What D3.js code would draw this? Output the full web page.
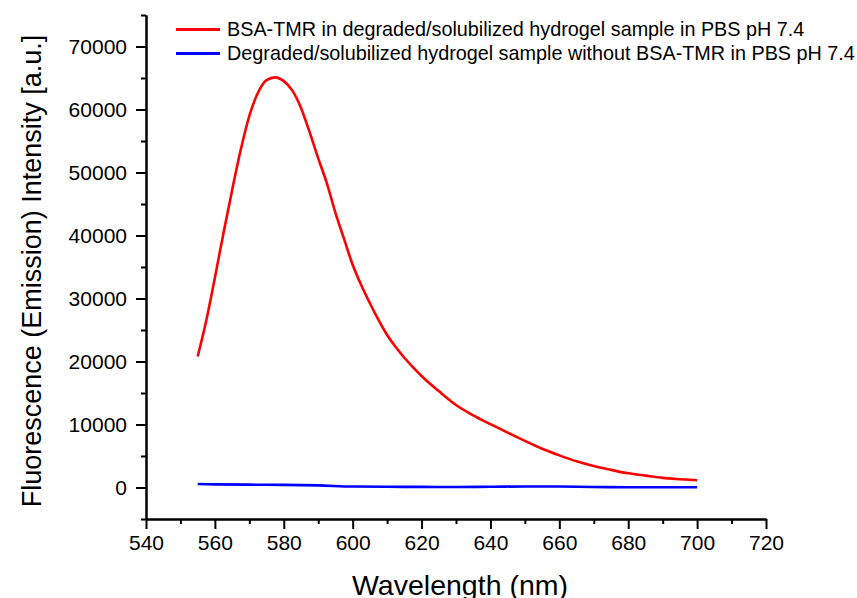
<!DOCTYPE html>
<html>
<head>
<meta charset="utf-8">
<script src="https://cdn.jsdelivr.net/npm/d3@7"></script>
<style>
  html, body { margin: 0; padding: 0; background: #fff; }
  svg { display: block; font-family: Arial, "Liberation Sans", sans-serif; }
</style>
</head>
<body>
<svg id="chart" width="857" height="598"></svg>
<script>
// Emission spectra (wavelength in nm, intensity in a.u.)
const wavelengthsRed = [555, 557.5, 560, 562.5, 565, 567.5, 570, 572.5, 575, 577.5, 580, 582.5, 585, 587.5,
  590, 592.5, 595, 597.5, 600, 602.5, 605, 607.5, 610, 612.5, 615, 617.5, 620, 625, 630, 635, 640, 645,
  650, 655, 660, 665, 670, 675, 680, 685, 690, 695, 700];
const intensityRed = [20800, 26500, 33300, 40400, 47200, 53600, 59000, 62650, 64650, 65100, 64500, 63000, 60250, 56400,
  52250, 48300, 43600, 39450, 35350, 32100, 29250, 26600, 24200, 22300, 20600, 19100, 17700, 15300, 13100, 11450, 10050, 8700,
  7400, 6150, 5100, 4150, 3400, 2800, 2250, 1880, 1530, 1320, 1150];

const wavelengthsBlue = [555, 560, 570, 580, 590, 600, 610, 620, 630, 640, 650, 660, 670, 680, 690, 700];
const intensityBlue = [560, 500, 450, 420, 330, 150, 110, 100, 80, 110, 170, 150, 80, 50, 40, 30];

const seriesNames = [
  "BSA-TMR in degraded/solubilized hydrogel sample in PBS pH 7.4",
  "Degraded/solubilized hydrogel sample without BSA-TMR in PBS pH 7.4"
];
const seriesColors = ["#ff0000", "#0000ff"];

const xMajorTicks = [540, 560, 580, 600, 620, 640, 660, 680, 700, 720];
const xMinorTicks = [550, 570, 590, 610, 630, 650, 670, 690, 710];
const yMajorTicks = [0, 10000, 20000, 30000, 40000, 50000, 60000, 70000];
const yMinorTicks = [-5000, 5000, 15000, 25000, 35000, 45000, 55000, 65000, 75000];

const xTitle = "Wavelength (nm)";
const yTitle = "Fluorescence (Emission) Intensity [a.u.]";

const svg = d3.select("#chart");
const plot = { left: 146, right: 766, top: 15, bottom: 519 };

const x = d3.scaleLinear().domain([540, 720]).range([plot.left, plot.right]);
const y = d3.scaleLinear().domain([-5000, 75000]).range([plot.bottom, plot.top]);

// Axes: major ticks with labels, minor ticks unlabeled
const xAxis = svg.append("g").attr("transform", `translate(0,${plot.bottom})`)
  .call(d3.axisBottom(x).tickValues(xMajorTicks).tickSize(10).tickSizeOuter(0).tickPadding(6).tickFormat(d3.format("d")));
const xMinor = svg.append("g").attr("transform", `translate(0,${plot.bottom})`)
  .call(d3.axisBottom(x).tickValues(xMinorTicks).tickSize(5).tickSizeOuter(0).tickFormat(""));
const yAxis = svg.append("g").attr("transform", `translate(${plot.left},0)`)
  .call(d3.axisLeft(y).tickValues(yMajorTicks).tickSize(10).tickSizeOuter(0).tickPadding(9).tickFormat(d3.format("d")));
const yMinor = svg.append("g").attr("transform", `translate(${plot.left},0)`)
  .call(d3.axisLeft(y).tickValues(yMinorTicks).tickSize(5).tickSizeOuter(0).tickFormat(""));

[xAxis, xMinor, yAxis, yMinor].forEach(g => {
  g.select(".domain").attr("stroke", "#000").attr("stroke-width", 2);
  g.selectAll(".tick line").attr("stroke", "#000").attr("stroke-width", 2);
  g.selectAll(".tick text").attr("fill", "#000").style("font-size", "21px")
    .style("font-family", "Arial, 'Liberation Sans', sans-serif");
});

// Axis titles
svg.append("text")
  .attr("x", 460).attr("y", 595)
  .attr("text-anchor", "middle").style("font-size", "28.5px").attr("fill", "#000")
  .text(xTitle);
svg.append("text")
  .attr("transform", `translate(41,${(plot.top + plot.bottom) / 2 + 4}) rotate(-90)`)
  .attr("text-anchor", "middle").style("font-size", "27px").attr("fill", "#000")
  .text(yTitle);

// Spectra
const line = d3.line().x(d => x(d[0])).y(d => y(d[1])).curve(d3.curveMonotoneX);
const redData = d3.zip(wavelengthsRed, intensityRed);
const blueData = d3.zip(wavelengthsBlue, intensityBlue);

svg.append("path").datum(blueData)
  .attr("fill", "none").attr("stroke", seriesColors[1]).attr("stroke-width", 2.6)
  .attr("d", line);
svg.append("path").datum(redData)
  .attr("fill", "none").attr("stroke", seriesColors[0]).attr("stroke-width", 2.6)
  .attr("d", line);

// Legend
const legend = svg.append("g");
seriesNames.forEach((name, i) => {
  const ly = 29.5 + i * 24;
  legend.append("line")
    .attr("x1", 176).attr("x2", 220).attr("y1", ly).attr("y2", ly)
    .attr("stroke", seriesColors[i]).attr("stroke-width", 3);
  legend.append("text")
    .attr("x", 227).attr("y", ly).attr("dy", "0.35em")
    .style("font-size", "19.8px").attr("fill", "#000")
    .text(name);
});
</script>
</body>
</html>
